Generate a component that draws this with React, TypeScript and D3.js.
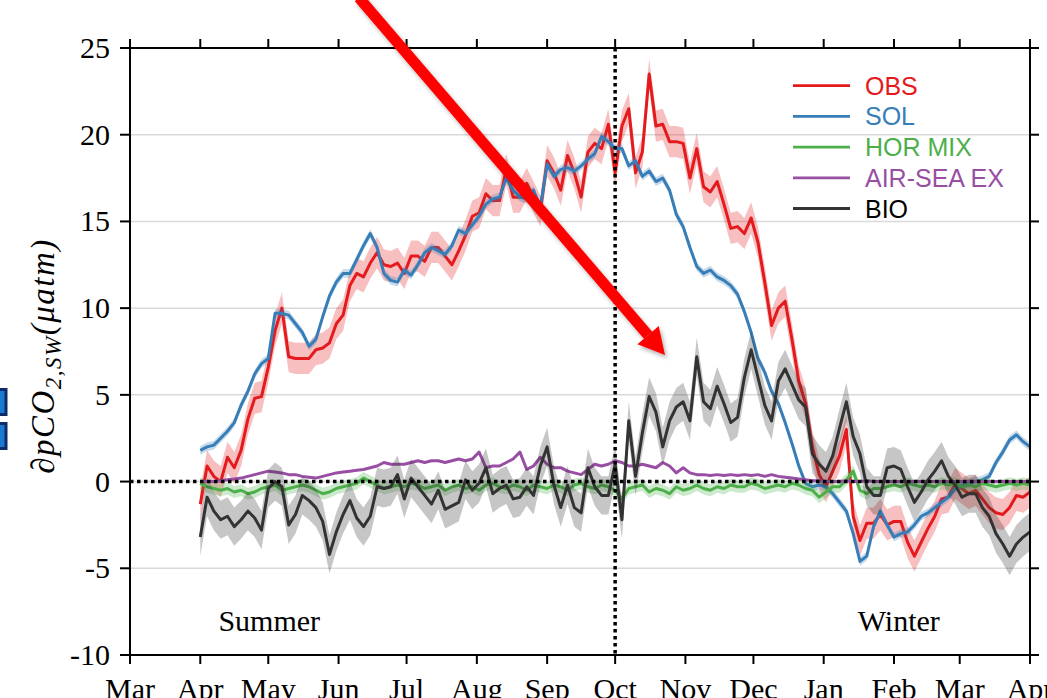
import * as d3 from 'd3';

// daily model output resampled every 3 days, starting 1 Apr 2015
const START = new Date(2015, 3, 1);
const STEP_DAYS = 3;

const obs = [
  -1.3, 0.9, 0.3, 0.0, 1.4, 0.8, 1.8, 3.6, 4.8, 4.9,
  6.6, 8.7, 10.0, 7.2, 7.1, 7.1, 7.1, 7.6, 7.7, 8.0,
  9.1, 9.6, 11.3, 12.0, 11.8, 12.6, 13.2, 12.5, 12.4, 12.6,
  12.0, 13.0, 13.0, 12.7, 13.5, 13.5, 13.0, 12.5, 13.3, 14.2,
  15.3, 15.5, 16.6, 16.2, 16.2, 18.0, 16.4, 16.4, 17.2, 16.4,
  15.6, 18.5, 17.8, 16.8, 18.8, 17.8, 16.4, 19.0, 19.5, 19.2,
  20.6, 17.8, 20.5, 21.5, 17.8, 19.0, 23.5, 20.5, 20.6, 19.6,
  19.6, 19.5, 17.5, 19.2, 17.0, 16.7, 17.3, 16.0, 14.6, 14.7,
  14.3, 15.2, 13.8, 11.5, 9.0, 10.0, 10.4, 8.2, 5.8, 4.5,
  2.0, 0.4, -0.3, 0.6, 1.5, 3.0, -2.0, -3.4, -2.4, -2.4,
  -1.9, -2.5, -2.3, -2.3, -3.5, -4.3, -3.5, -2.7, -2.0, -1.0,
  -0.9, -0.1, -0.4, -0.7, -0.5, -1.0, -1.5, -1.8, -1.9, -1.5,
  -0.8, -0.9, -0.6,
];

const sol = [
  1.8, 2.0, 2.1, 2.5, 2.9, 3.4, 4.4, 5.2, 6.2, 6.8,
  7.1, 9.7, 9.7, 9.6, 9.1, 8.6, 7.8, 8.2, 9.5, 10.7,
  11.5, 12.0, 12.0, 12.8, 13.6, 14.3, 13.5, 12.0, 11.6, 11.5,
  12.2, 11.9, 12.5, 13.2, 13.5, 13.3, 13.1, 13.6, 14.5, 14.3,
  14.8, 15.3, 16.0, 16.3, 16.4, 17.5, 16.8, 16.4, 16.3, 16.8,
  15.8, 18.3, 17.6, 18.0, 18.1, 17.9, 18.2, 18.6, 18.9, 19.9,
  19.6, 19.2, 19.2, 18.2, 18.5, 17.6, 17.9, 17.3, 17.5, 16.8,
  15.4, 14.7, 13.5, 12.4, 12.0, 12.2, 11.8, 11.6, 11.3, 10.8,
  9.8, 8.6, 7.1, 6.3, 5.2, 4.5, 3.4, 2.2, 0.9, -0.1,
  -0.3, -0.2, -0.3, -0.7, -1.2, -1.7, -3.0, -4.6, -4.3, -2.6,
  -1.7, -2.5, -3.2, -3.0, -2.9, -2.5, -2.0, -1.8, -1.5, -1.2,
  -0.9, -0.4, -0.2, -0.1, 0.0, 0.1, 0.3, 1.1, 1.7, 2.4,
  2.7, 2.3, 2.0,
];

const horMix = [
  -0.1, -0.3, -0.4, -0.5, -0.4, -0.6, -0.5, -0.7, -0.6, -0.4,
  -0.3, -0.2, -0.5, -0.4, -0.3, -0.2, -0.3, -0.5, -0.7, -0.6,
  -0.4, -0.3, -0.2, -0.1, 0.2, 0.0, -0.2, -0.4, -0.3, -0.2,
  -0.3, -0.1, -0.2, -0.4, -0.3, -0.2, -0.5, -0.3, -0.2, -0.4,
  -0.3, -0.5, -0.2, -0.1, -0.3, -0.4, -0.2, -0.3, -0.5, -0.2,
  -0.3, -0.4, -0.2, -0.3, -0.5, -0.2, -0.1, -0.3, -0.4, -0.2,
  -0.3, -0.5, -1.0, -0.4, -0.3, -0.2, -0.6, -0.4, -0.5, -0.7,
  -0.3, -0.5, -0.4, -0.2, -0.4, -0.5, -0.3, -0.4, -0.2, -0.3,
  -0.3, -0.1, -0.2, -0.4, -0.3, -0.2, -0.3, -0.1, -0.2, -0.4,
  -0.5, -0.9, -0.6, -0.3, -0.3, 0.1, 0.6, -0.5, -0.7, -0.4,
  -0.4, -0.3, -0.2, -0.3, -0.1, -0.2, -0.3, -0.2, -0.3, -0.1,
  -0.2, -0.1, -0.3, -0.2, -0.3, -0.1, -0.2, -0.3, -0.2, -0.1,
  -0.2, -0.1, -0.2,
];

const airSea = [
  0.0, 0.0, 0.0, 0.05, 0.1, 0.15, 0.2, 0.3, 0.4, 0.5,
  0.6, 0.55, 0.5, 0.4, 0.4, 0.3, 0.25, 0.2, 0.3, 0.4,
  0.5, 0.55, 0.6, 0.65, 0.7, 0.8, 0.9, 1.1, 1.0, 1.0,
  1.0, 1.1, 1.2, 1.1, 1.2, 1.2, 1.1, 1.2, 1.3, 1.2,
  1.3, 1.7, 0.8, 0.9, 0.9, 1.1, 1.3, 1.7, 0.7, 0.9,
  1.4, 1.0, 0.8, 0.8, 0.6, 0.5, 0.4, 0.7, 1.0, 0.9,
  1.0, 1.2, 1.1, 0.9, 0.9, 1.0, 0.9, 0.8, 1.1, 0.9,
  0.5, 0.8, 0.5, 0.4, 0.4, 0.35, 0.4, 0.35, 0.4, 0.35,
  0.4, 0.35, 0.4, 0.3, 0.4, 0.3, 0.25, 0.2, 0.15, 0.1,
  0.05, 0.05, 0.0, 0.0, 0.0, 0.05, 0.0, 0.0, 0.05, 0.0,
  0.0, 0.0, 0.0, 0.0, 0.0, 0.0, 0.0, 0.0, 0.0, 0.0,
  0.0, 0.0, 0.0, 0.0, 0.0, 0.0, 0.0, 0.0, 0.0, 0.0,
  0.0, 0.0, 0.0,
];

const bio = [
  -3.2, -0.9, -1.7, -2.2, -2.0, -2.6, -2.2, -1.7, -2.1, -2.8,
  -0.4, 0.0, -0.3, -2.5, -1.9, -0.8, -1.1, -1.5, -2.3, -4.2,
  -2.9, -1.9, -1.1, -2.1, -2.6, -2.0, -0.3, -0.4, -0.3, 0.4,
  -1.0, 0.2, -0.3, -0.8, -1.3, -0.5, -1.6, -1.4, -1.2, 0.1,
  -0.5, -0.1, 0.8, -0.7, -0.4, -0.2, -1.0, -0.9, -0.3, -0.8,
  0.9, 2.0, -0.2, -1.5, -0.2, -1.5, -1.8, 0.8, -0.3, -0.8,
  -0.8, 1.0, -2.2, 3.5, 0.3, 2.8, 4.9, 4.0, 2.0, 3.5,
  4.3, 4.6, 3.5, 7.2, 4.6, 4.2, 5.5, 4.5, 3.4, 3.7,
  6.0, 7.6, 6.0, 4.4, 3.5, 5.8, 6.5, 5.6, 4.7, 4.3,
  1.6, 1.0, 0.6, 1.5, 3.1, 4.6, 2.6, 1.6, -0.3, -0.8,
  -0.8, 0.8, 0.9, 0.7, -0.3, -1.2, -0.6, 0.1, 0.6, 1.2,
  0.3, -0.2, -0.9, -0.7, -0.7, -1.5, -2.0, -3.0, -3.6, -4.3,
  -3.6, -3.2, -2.9,
];

const seriesNames = ['OBS', 'SOL', 'HOR MIX', 'AIR-SEA EX', 'BIO'];
const seriesColors = ['#e41a1c', '#377eb8', '#4daf4a', '#984ea3', '#333333'];
const seriesErr = [0.9, 0.25, 0.35, 0.05, 1.1];
const yTicks = [-10, -5, 0, 5, 10, 15, 20, 25];

const seasonLabels = ['Summer', 'Winter'];
const seasonDates = [new Date(2015, 3, 9), new Date(2016, 0, 16)];
const seasonY = -8.6;

const splitDate = new Date(2015, 9, 1);
const arrowFrom: [Date, number] = [new Date(2015, 5, 10), 27.9];
const arrowTo: [Date, number] = [new Date(2015, 9, 23), 7.3];

const W = 1047,
  H = 698;
const left = 130,
  right = 1030,
  top = 48,
  bottom = 655;
const serif = "'Liberation Serif', 'Times New Roman', serif";
const sans = "'Liberation Sans', Arial, sans-serif";

export default function App() {
  const x = d3
    .scaleTime()
    .domain([new Date(2015, 2, 1), new Date(2016, 3, 1)])
    .range([left, right]);
  const y = d3.scaleLinear().domain([-10, 25]).range([bottom, top]);

  const dates = obs.map((_, i) => d3.timeDay.offset(START, i * STEP_DAYS));
  const series = [obs, sol, horMix, airSea, bio];

  const line = d3
    .line<number>()
    .x((_, i) => x(dates[i]))
    .y((d) => y(d));
  const band = (err: number) =>
    d3
      .area<number>()
      .x((_, i) => x(dates[i]))
      .y0((d) => y(d - err))
      .y1((d) => y(d + err));

  const months = x.ticks(d3.timeMonth.every(1));
  const fmt = d3.timeFormat('%b');

  // annotation arrow
  const ax0 = x(arrowFrom[0]),
    ay0 = y(arrowFrom[1]);
  const ax1 = x(arrowTo[0]),
    ay1 = y(arrowTo[1]);
  const len = Math.hypot(ax1 - ax0, ay1 - ay0);
  const ux = (ax1 - ax0) / len,
    uy = (ay1 - ay0) / len;
  const headL = 26,
    headW = 14;
  const bx = ax1 - ux * headL,
    by = ay1 - uy * headL;
  const head = `M${ax1},${ay1}L${bx - uy * headW},${by + ux * headW}L${bx + uy * headW},${by - ux * headW}Z`;

  const legendY = (i: number) => 85.7 + i * 30.7;

  return (
    <div style={{ position: 'absolute', left: 0, top: 0 }}>
      <svg width={W} height={H} viewBox={`0 0 ${W} ${H}`} style={{ display: 'block' }}>
        <defs>
          <filter id="shadow" x="-20%" y="-20%" width="140%" height="140%">
            <feDropShadow dx="2" dy="3" stdDeviation="2" floodColor="#000" floodOpacity="0.3" />
          </filter>
        </defs>
        <rect width={W} height={H} fill="#fff" />

        {/* partial icons at the left edge */}
        <rect x={-20} y={389.5} width={26} height={25} fill="#1a7ad0" stroke="#0b2b6b" strokeWidth={3} />
        <rect x={-20} y={423.5} width={26} height={25} fill="#1a7ad0" stroke="#0b2b6b" strokeWidth={3} />

        {/* grid */}
        {yTicks
          .filter((t) => t > -10 && t < 25)
          .map((t) => (
            <line key={t} x1={left} x2={right} y1={y(t)} y2={y(t)} stroke="#d9d9d9" strokeWidth={1.5} />
          ))}

        {/* series: band then line */}
        {series.map((s, k) => (
          <g key={seriesNames[k]}>
            <path d={band(seriesErr[k])(s) ?? ''} fill={seriesColors[k]} fillOpacity={0.28} stroke="none" />
            <path d={line(s) ?? ''} fill="none" stroke={seriesColors[k]} strokeWidth={3} strokeLinejoin="round" />
          </g>
        ))}

        {/* zero line and season split */}
        <line x1={left} x2={right} y1={y(0)} y2={y(0)} stroke="#000" strokeWidth={3.5} strokeDasharray="3.5,3.5" />
        <line x1={x(splitDate)} x2={x(splitDate)} y1={top} y2={bottom} stroke="#000" strokeWidth={3.5} strokeDasharray="3.5,3.5" />

        {/* spines */}
        <rect x={left} y={top} width={right - left} height={bottom - top} fill="none" stroke="#000" strokeWidth={2} />

        {/* y ticks */}
        {yTicks.map((t) => (
          <g key={t}>
            <line x1={left - 10} x2={left} y1={y(t)} y2={y(t)} stroke="#000" strokeWidth={2} />
            <line x1={right} x2={right + 9} y1={y(t)} y2={y(t)} stroke="#000" strokeWidth={2} />
            <text x={110} y={y(t) + 10} textAnchor="end" fontFamily={serif} fontSize={30}>
              {t}
            </text>
          </g>
        ))}

        {/* x ticks */}
        {months.map((m) => (
          <g key={+m}>
            <line x1={x(m)} x2={x(m)} y1={top - 9} y2={top} stroke="#000" strokeWidth={2} />
            <line x1={x(m)} x2={x(m)} y1={bottom} y2={bottom + 9} stroke="#000" strokeWidth={2} />
            <text x={x(m)} y={699} textAnchor="middle" fontFamily={serif} fontSize={30}>
              {fmt(m)}
            </text>
          </g>
        ))}

        {/* y label */}
        <text
          transform="translate(54,356) rotate(-90)"
          textAnchor="middle"
          fontFamily={serif}
          fontStyle="italic"
          fontSize={33}
          letterSpacing={1.5}
        >
          ∂pCO
          <tspan fontSize={23} dy={7}>
            2,SW
          </tspan>
          <tspan dy={-7}>(μatm)</tspan>
        </text>

        {/* season labels */}
        {seasonLabels.map((s, i) => (
          <text key={s} x={x(seasonDates[i])} y={y(seasonY)} fontFamily={serif} fontSize={30}>
            {s}
          </text>
        ))}

        {/* legend */}
        {seriesNames.map((n, i) => (
          <g key={n}>
            <line x1={793} x2={850} y1={legendY(i)} y2={legendY(i)} stroke={seriesColors[i]} strokeWidth={2.8} />
            <text x={865} y={legendY(i) + 9} fontFamily={sans} fontSize={25} fill={i === 4 ? '#000' : seriesColors[i]}>
              {n}
            </text>
          </g>
        ))}

        {/* red annotation arrow */}
        <g filter="url(#shadow)">
          <line x1={ax0} y1={ay0} x2={bx} y2={by} stroke="#ff0000" strokeWidth={11} />
          <path d={head} fill="#ff0000" />
        </g>
      </svg>
    </div>
  );
}
